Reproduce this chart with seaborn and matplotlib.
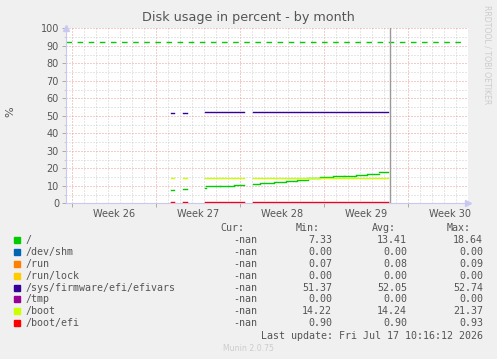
import numpy as np
import pandas as pd
import matplotlib
matplotlib.use('Agg')
import matplotlib.pyplot as plt
import seaborn as sns
from matplotlib.patches import Rectangle

# ---------------- data ----------------
series_names = ['/', '/dev/shm', '/run', '/run/lock', '/sys/firmware/efi/efivars',
                '/tmp', '/boot', '/boot/efi']
series_colors = ['#00CC00', '#0066B3', '#FF8000', '#FFCC00', '#330099',
                 '#990099', '#CCFF00', '#FF0000']
cur_vals = ['-nan', '-nan', '-nan', '-nan', '-nan', '-nan', '-nan', '-nan']
min_vals = ['7.33', '0.00', '0.07', '0.00', '51.37', '0.00', '14.22', '0.90']
avg_vals = ['13.41', '0.00', '0.08', '0.00', '52.05', '0.00', '14.24', '0.90']
max_vals = ['18.64', '0.00', '0.09', '0.00', '52.74', '0.00', '21.37', '0.93']

# periods with data (days from left edge of graph)
seg_start = [8.75, 9.75, 11.6, 15.6]
seg_end = [9.0, 10.1, 14.8, 26.83]

# "/" grows step-wise
root_start = [8.75, 9.75, 11.6, 11.7, 12.83, 14.0, 15.6, 16.2, 17.33, 18.33,
              19.25, 20.17, 21.17, 22.25, 23.17, 24.17, 25.08, 26.08]
root_end = [9.0, 10.1, 11.7, 12.83, 14.0, 14.8, 16.2, 17.33, 18.33, 19.25,
            20.17, 21.17, 22.25, 23.17, 24.17, 25.08, 26.08, 26.83]
root_pct = [7.33, 8.4, 9.0, 9.7, 10.1, 10.7, 11.3, 11.8, 12.4, 13.0,
            13.5, 14.2, 14.9, 15.4, 15.8, 16.4, 17.0, 17.7]

shm_pct = [0.0, 0.0, 0.0, 0.0]
run_pct = [0.07, 0.08, 0.08, 0.09]
lock_pct = [0.0, 0.0, 0.0, 0.0]
efivars_pct = [51.37, 51.8, 52.05, 52.05]
tmp_pct = [0.0, 0.0, 0.0, 0.0]
boot_pct = [14.22, 14.22, 14.22, 14.22]
bootefi_pct = [0.9, 0.9, 0.9, 0.9]

week_start = [0.5, 7.5, 14.5, 21.5, 28.5]
week_labels = ['Week 26', 'Week 27', 'Week 28', 'Week 29', 'Week 30']
y_ticks = [0, 10, 20, 30, 40, 50, 60, 70, 80, 90, 100]
warning_pct = 92
warning_end = 33.0
now_day = 27.0
x_span = 33.5
last_update = 'Last update: Fri Jul 17 10:16:12 2026'

# ---------------- build table ----------------
rows = []
def add(name, starts, ends, vals):
    for i, (s, e, v) in enumerate(zip(starts, ends, vals)):
        rows.append((name, f'{name}#{i}', s, v))
        rows.append((name, f'{name}#{i}', e, v))

add('/', root_start, root_end, root_pct)
for name, vals in zip(series_names[1:], [shm_pct, run_pct, lock_pct, efivars_pct,
                                         tmp_pct, boot_pct, bootefi_pct]):
    add(name, seg_start, seg_end, vals)
df = pd.DataFrame(rows, columns=['series', 'piece', 'day', 'pct'])

# ---------------- figure ----------------
W, H = 497, 359
fig = plt.figure(figsize=(W / 100, H / 100), dpi=100)
fig.patch.set_facecolor('#f0f0f0')
plt.rcParams['lines.scale_dashes'] = False

def fx(px):
    return px / W

def fy(py):
    return 1 - py / H

left, right, top, bottom = 66, 468, 28.3, 203.3
ax = fig.add_axes([fx(left), fy(bottom), fx(right - left), (bottom - top) / H])
ax.set_facecolor('white')

palette = dict(zip(series_names, series_colors))
sns.lineplot(data=df, x='day', y='pct', hue='series', hue_order=series_names,
             units='piece', estimator=None, palette=palette, lw=1.0,
             legend=False, ax=ax, sort=True, zorder=3)

ax.hlines(warning_pct, 0, warning_end, colors='#00CC00', lw=1.0,
          linestyles=(0, (4.0, 4.0)), zorder=2)
ax.axvline(now_day, color='#999999', lw=1.0, zorder=4)

ax.set_xlim(0, x_span)
ax.set_ylim(0, 100)

# grid
ax.set_yticks(y_ticks)
ax.set_yticks([v + 5 for v in y_ticks[:-1]], minor=True)
ax.set_xticks(week_start)
ax.set_xticks([week_start[0] + d for d in range(int(x_span))], minor=True)
ax.set_xticklabels([])
dot = (0, (0.72, 1.44))
ax.grid(True, which='major', color='#eb9a9a', lw=0.72, linestyle=dot)
ax.grid(True, which='minor', color='#cfcfcf', lw=0.72, linestyle=dot)
ax.set_axisbelow(True)

ax.tick_params(axis='y', which='major', length=3, width=0.7, color='#aaaaaa',
               labelsize=7.0, labelcolor='#555555', pad=2)
ax.tick_params(axis='y', which='minor', length=1.5, width=0.7, color='#cccccc')
ax.tick_params(axis='x', which='major', length=3, width=0.7, color='#aaaaaa')
ax.tick_params(axis='x', which='minor', length=0)
for lab in ax.get_yticklabels():
    lab.set_fontfamily('DejaVu Sans')

for s in ['top', 'right']:
    ax.spines[s].set_visible(False)
for s in ['left', 'bottom']:
    ax.spines[s].set_color('#c8c8f0')
    ax.spines[s].set_linewidth(0.8)
ax.set_xlabel('')
ax.set_ylabel('')

# axis arrows
ax.plot([0], [1.0], marker='^', markersize=4, color='#c8c8f0', transform=ax.transAxes,
        clip_on=False, zorder=5)
ax.plot([1.0], [0], marker='>', markersize=4, color='#c8c8f0', transform=ax.transAxes,
        clip_on=False, zorder=5)

# week labels
for ws, lab in zip(week_start, week_labels):
    ax.text(ws + 3.5, -0.035, lab, transform=ax.get_xaxis_transform(),
            ha='center', va='top', fontsize=7.0, color='#555555')

# title / labels
fig.text(fx(248), fy(18), 'Disk usage in percent - by month', ha='center', va='center',
         fontsize=9.2, color='#555555')
fig.text(fx(10), fy(112), '%', rotation=90, ha='center', va='center',
         fontsize=8, color='#555555')
fig.text(fx(487), fy(5), 'RRDTOOL / TOBI OETIKER', rotation=270, ha='center', va='top',
         fontsize=5.6, color='#cccccc')

# legend table
mono = dict(family='DejaVu Sans Mono', fontsize=7.2, color='#555555')
hy = 228
for txt, xr in zip(['Cur:', 'Min:', 'Avg:', 'Max:'], [244, 320, 396, 471]):
    fig.text(fx(xr), fy(hy), txt, ha='right', va='center', **mono)
for i, name in enumerate(series_names):
    y = 239.8 + 11.93 * i
    fig.add_artist(Rectangle((fx(14), fy(y + 3)), fx(6), 6 / H,
                             transform=fig.transFigure, color=series_colors[i]))
    fig.text(fx(26), fy(y), name, ha='left', va='center', **mono)
    fig.text(fx(257), fy(y), cur_vals[i], ha='right', va='center', **mono)
    fig.text(fx(332), fy(y), min_vals[i], ha='right', va='center', **mono)
    fig.text(fx(407), fy(y), avg_vals[i], ha='right', va='center', **mono)
    fig.text(fx(483), fy(y), max_vals[i], ha='right', va='center', **mono)
fig.text(fx(483), fy(335.7), last_update, ha='right', va='center', **mono)
fig.text(fx(248), fy(348.3), 'Munin 2.0.75', ha='center', va='center',
         fontsize=5.6, color='#cccccc')

fig.savefig('out.png', dpi=100, facecolor=fig.get_facecolor())
